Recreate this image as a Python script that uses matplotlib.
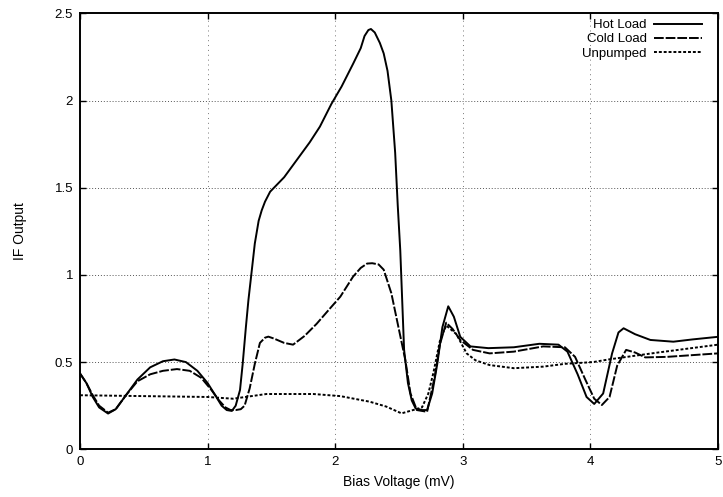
import matplotlib
matplotlib.use("Agg")
import matplotlib.pyplot as plt

# ---- data ----
hot_x = [0, 0.05, 0.1, 0.15, 0.22, 0.28, 0.36, 0.45, 0.55, 0.65, 0.74, 0.83, 0.92, 1.0, 1.06,
         1.11, 1.15, 1.19, 1.22, 1.254, 1.275, 1.3, 1.32, 1.35, 1.37, 1.4, 1.424, 1.45, 1.49,
         1.6, 1.70, 1.8, 1.88, 1.97, 2.05, 2.14, 2.2, 2.23, 2.26, 2.28, 2.31, 2.35, 2.38, 2.41,
         2.44, 2.47, 2.49, 2.51, 2.54, 2.57, 2.6, 2.63, 2.68, 2.72, 2.76, 2.80, 2.84, 2.886,
         2.93, 2.98, 3.06, 3.2, 3.4, 3.6, 3.75, 3.82, 3.9, 3.97, 4.03, 4.1, 4.17, 4.22, 4.26,
         4.35, 4.47, 4.65, 4.8, 5.0]
hot_y = [0.435, 0.38, 0.30, 0.24, 0.205, 0.23, 0.31, 0.40, 0.47, 0.505, 0.515, 0.50, 0.45,
         0.38, 0.31, 0.25, 0.225, 0.22, 0.25, 0.34, 0.49, 0.70, 0.856, 1.05, 1.18, 1.31, 1.37,
         1.42, 1.477, 1.56, 1.66, 1.76, 1.85, 1.98, 2.08, 2.21, 2.30, 2.37, 2.404, 2.41, 2.39,
         2.33, 2.27, 2.17, 2.0, 1.7, 1.40, 1.14, 0.57, 0.38, 0.28, 0.235, 0.225, 0.225, 0.32,
         0.49, 0.70, 0.82, 0.76, 0.645, 0.59, 0.58, 0.585, 0.605, 0.60, 0.56, 0.43, 0.30, 0.26,
         0.32, 0.55, 0.67, 0.694, 0.66, 0.627, 0.617, 0.63, 0.645]

cold_x = [0, 0.05, 0.1, 0.15, 0.22, 0.28, 0.36, 0.45, 0.55, 0.65, 0.76, 0.86, 0.95, 1.03, 1.09,
          1.14, 1.18, 1.22, 1.26, 1.29, 1.33, 1.37, 1.41, 1.45, 1.476, 1.52, 1.6, 1.67, 1.76,
          1.855, 1.95, 2.04, 2.14, 2.2, 2.25, 2.29, 2.34, 2.38, 2.44, 2.49, 2.55, 2.59, 2.64,
          2.72, 2.78, 2.82, 2.87, 2.92, 2.98, 3.08, 3.21, 3.4, 3.63, 3.8, 3.88, 3.96, 4.03, 4.09,
          4.15, 4.21, 4.28, 4.35, 4.43, 4.6, 4.8, 5.0]
cold_y = [0.435, 0.38, 0.31, 0.25, 0.21, 0.23, 0.31, 0.39, 0.43, 0.45, 0.46, 0.45, 0.41, 0.34,
          0.28, 0.24, 0.225, 0.225, 0.23, 0.25, 0.35, 0.49, 0.61, 0.64, 0.646, 0.635, 0.61, 0.60,
          0.65, 0.72, 0.80, 0.875, 0.99, 1.04, 1.065, 1.067, 1.06, 1.03, 0.895, 0.72, 0.51, 0.32,
          0.225, 0.215, 0.416, 0.60, 0.726, 0.69, 0.627, 0.57, 0.55, 0.56, 0.59, 0.585, 0.53,
          0.40, 0.29, 0.254, 0.30, 0.48, 0.57, 0.555, 0.527, 0.53, 0.54, 0.55]

unp_x = [0, 0.5, 1.0, 1.2, 1.46, 1.83, 2.04, 2.27, 2.4, 2.52, 2.61, 2.68, 2.73, 2.77, 2.82,
         2.87, 2.95, 3.03, 3.1, 3.21, 3.4, 3.63, 3.8, 4.02, 4.15, 4.52, 5.0]
unp_y = [0.31, 0.305, 0.30, 0.29, 0.317, 0.317, 0.305, 0.273, 0.245, 0.206, 0.225, 0.24, 0.32,
         0.44, 0.62, 0.71, 0.66, 0.55, 0.51, 0.483, 0.465, 0.474, 0.49, 0.50, 0.516, 0.554, 0.60]

x_ticks = [0, 1, 2, 3, 4, 5]
x_tick_labels = ["0", "1", "2", "3", "4", "5"]
y_ticks = [0, 0.5, 1, 1.5, 2, 2.5]
y_tick_labels = ["0", "0.5", "1", "1.5", "2", "2.5"]
series_labels = ["Hot Load", "Cold Load", "Unpumped"]

plt.rcParams["font.family"] = ["Liberation Sans", "DejaVu Sans"]

fig = plt.figure(figsize=(7.23, 4.97), dpi=100)
ax = fig.add_axes([80 / 723, 1 - 449.3 / 497, (718 - 80) / 723, (449.3 - 13.3) / 497])

ax.plot(hot_x, hot_y, color="black", lw=1.4, ls="-", label=series_labels[0])
ax.plot(cold_x, cold_y, color="black", lw=1.4, ls=(0, (5, 1)), label=series_labels[1])
ax.plot(unp_x, unp_y, color="black", lw=1.4, ls=(0, (1.5, 1)), label=series_labels[2])

ax.set_xlim(0, 5)
ax.set_ylim(0, 2.5)
ax.set_xticks(x_ticks)
ax.set_xticklabels(x_tick_labels)
ax.set_yticks(y_ticks)
ax.set_yticklabels(y_tick_labels)
ax.tick_params(direction="in", length=4, width=1, top=True, right=True, labelsize=9.5, pad=5)

for v in y_ticks[1:-1]:
    ax.axhline(v, color="#555555", lw=0.7, ls=(0, (1, 2)), zorder=0)
for v in x_ticks[1:-1]:
    ax.axvline(v, color="#777777", lw=0.7, ls=(0, (1, 4)), zorder=0)

for s in ax.spines.values():
    s.set_linewidth(1.4)

ax.set_xlabel("Bias Voltage (mV)", fontsize=10, labelpad=5)
ax.set_ylabel("IF Output", fontsize=10, labelpad=20)

ax.legend(loc="upper right", bbox_to_anchor=(702 / 723, 1 - 19 / 497), bbox_transform=fig.transFigure,
          frameon=False, markerfirst=False, fontsize=9.5, handlelength=3.6, handletextpad=0.6,
          labelspacing=0.15, borderpad=0, borderaxespad=0)

fig.savefig("out.png", dpi=100)
